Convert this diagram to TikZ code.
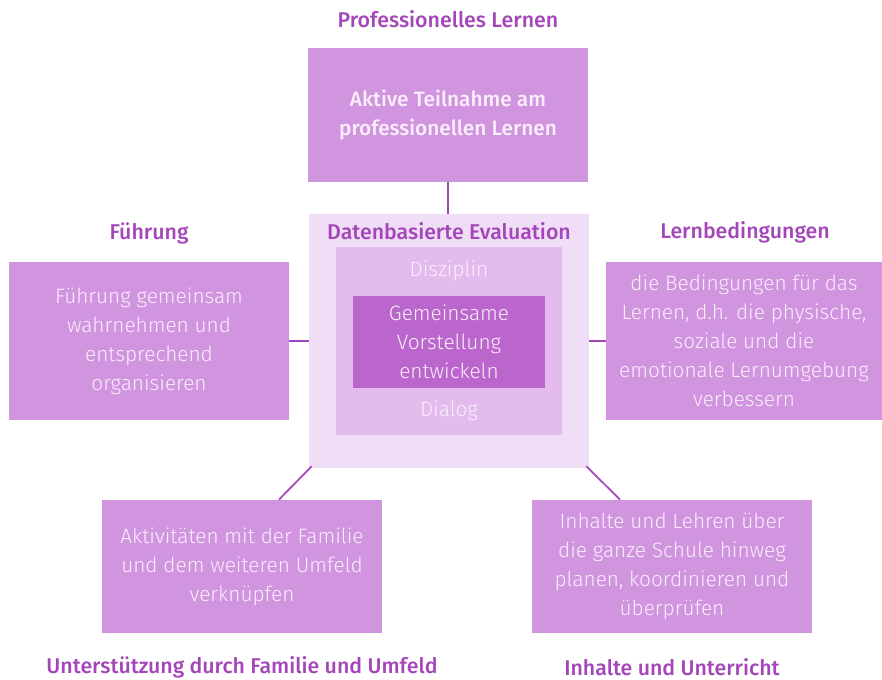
\documentclass[tikz,border=0pt]{standalone}
\usepackage{fontspec}
\setmainfont{Fira Sans Light}[BoldFont={Fira Sans Medium}]
\usetikzlibrary{positioning,calc}
\definecolor{lila}{HTML}{D194DF}
\definecolor{lilaosc}{HTML}{BB66CC}
\definecolor{lilamed}{HTML}{E3BBEC}
\definecolor{lilaclaro}{HTML}{F0DDF6}
\definecolor{titulo}{HTML}{A445B9}
\definecolor{texto}{HTML}{FAEEFC}
\tikzset{
  caja/.style={fill=lila,minimum width=210pt,minimum height=100pt,align=center,text=texto,font=\fontsize{15.6}{21.75}\selectfont,inner sep=0pt},
  titulobox/.style={text=titulo,font=\fontsize{16}{18}\selectfont\bfseries},
  enlace/.style={draw=titulo,line width=1.3pt}
}
\begin{document}
\begin{tikzpicture}[x=0.75pt,y=-0.75pt]
    \useasboundingbox (0,0) rectangle (882,680);
    % centro
    \node[fill=lilaclaro,minimum width=210pt,minimum height=190.5pt,inner sep=0pt] (evaluacion) at (449,341) {};
    \node[fill=lilamed,minimum width=169.5pt,minimum height=141pt,inner sep=0pt] (disciplina) at (449,341) {};
    \node[fill=lilaosc,minimum width=144pt,minimum height=69pt,align=center,text=texto,font=\fontsize{15.6}{21.75}\selectfont,inner sep=0pt] (vision) at (449,342) {Gemeinsame\\Vorstellung\\entwickeln};
    \node[titulobox] (tevaluacion) at (449,231) {Datenbasierte Evaluation};
    \node[text=texto,font=\fontsize{15.6}{18}\selectfont] (tdisciplina) at (449,271) {Disziplin};
    \node[text=texto,font=\fontsize{15.6}{18}\selectfont] (tdialogo) at (449,411) {Dialog};
    % cajas exteriores
    \node[caja] (arriba) at (448,115) {\bfseries Aktive Teilnahme am\\\bfseries professionellen Lernen};
    \node[caja,minimum height=118.5pt] (izq) at (149,341) {Führung gemeinsam\\wahrnehmen und\\entsprechend\\organisieren};
    \node[caja,minimum width=207pt,minimum height=118.5pt] (der) at (744,341) {die Bedingungen für das\\Lernen, d.h. die physische,\\soziale und die\\emotionale Lernumgebung\\verbessern};
    \node[caja] (abizq) at (242,566.5) {Aktivitäten mit der Familie\\und dem weiteren Umfeld\\verknüpfen};
    \node[caja] (abder) at (672,566.5) {Inhalte und Lehren über\\die ganze Schule hinweg\\planen, koordinieren und\\überprüfen};
    % titulos
    \node[titulobox] (tarriba) at (448,19) {Professionelles Lernen};
    \node[titulobox] (tizq) at (149,233) {Führung};
    \node[titulobox] (tder) at (745,232) {Lernbedingungen};
    \node[titulobox] (tabizq) at (242,667) {Unterstützung durch Familie und Umfeld};
    \node[titulobox] (tabder) at (672,667) {Inhalte und Unterricht};
    % enlaces
    \draw[enlace] (arriba.south) -- (arriba.south |- evaluacion.north);
    \draw[enlace] (izq.east) -- (evaluacion.west);
    \draw[enlace] (evaluacion.east) -- (der.west);
    \draw[enlace] ($(evaluacion.south west)+(3,-2)$) -- ($(abizq.north)+(37,0)$);
    \draw[enlace] ($(evaluacion.south east)+(-3,-2)$) -- ($(abder.north)+(-52,0)$);
\end{tikzpicture}
\end{document}
